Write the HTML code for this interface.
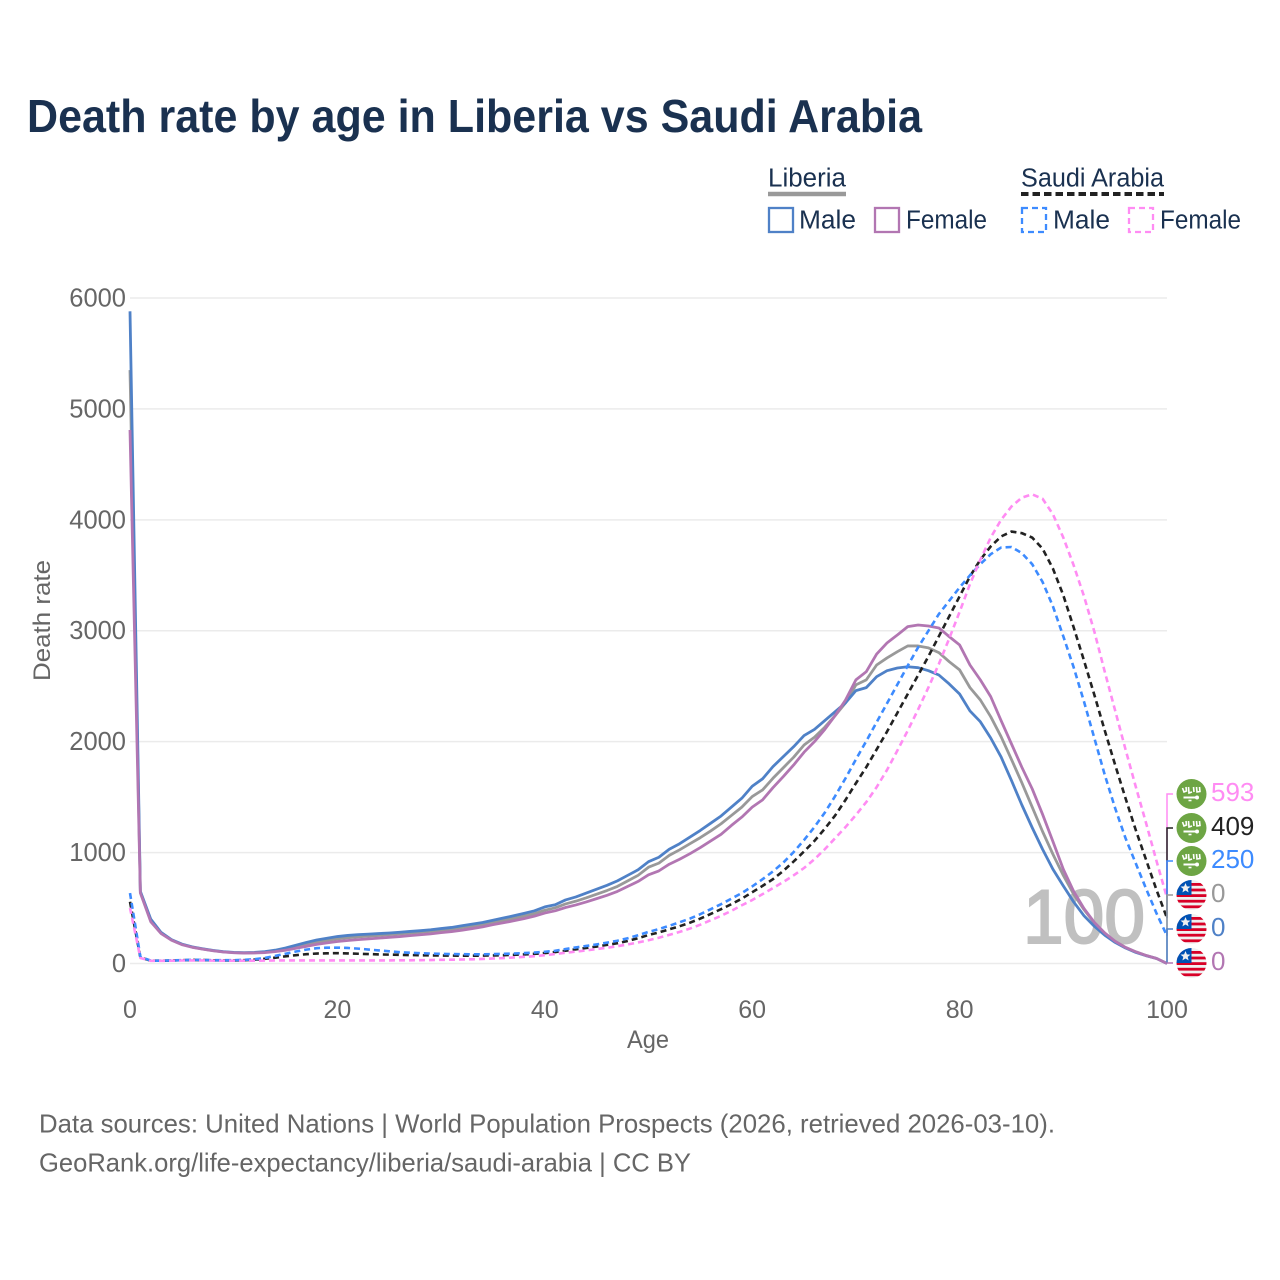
<!DOCTYPE html>
<html>
<head>
<meta charset="utf-8">
<title>Death rate by age in Liberia vs Saudi Arabia</title>
<style>
html,body{margin:0;padding:0;background:#fff}
svg{display:block}
text{font-family:"Liberation Sans",sans-serif}
</style>
</head>
<body>
<svg id="chart" width="1280" height="1280" viewBox="0 0 1280 1280" xmlns="http://www.w3.org/2000/svg">
  <text x="27" y="132" font-size="46" font-weight="700" fill="#1a3150" textLength="895" lengthAdjust="spacingAndGlyphs">Death rate by age in Liberia vs Saudi Arabia</text>

  <g font-size="25.5" fill="#1a3150">
    <text x="768" y="186.5" textLength="78" lengthAdjust="spacingAndGlyphs">Liberia</text>
    <line x1="768" y1="194" x2="846" y2="194" stroke="#999" stroke-width="4.5"/>
    <text x="1021" y="186.5" textLength="143" lengthAdjust="spacingAndGlyphs">Saudi Arabia</text>
    <line x1="1021" y1="194" x2="1164" y2="194" stroke="#222" stroke-width="4" stroke-dasharray="7.5 4"/>

    <rect x="769" y="208" width="24" height="24" fill="none" stroke="#4f81c7" stroke-width="2.3"/>
    <text x="799" y="228.5" textLength="57" lengthAdjust="spacingAndGlyphs">Male</text>
    <rect x="875" y="208" width="24" height="24" fill="none" stroke="#b276b2" stroke-width="2.3"/>
    <text x="906" y="228.5" textLength="81" lengthAdjust="spacingAndGlyphs">Female</text>
    <rect x="1022" y="208" width="24" height="24" fill="none" stroke="#3d8bff" stroke-width="2.3" stroke-dasharray="6 4"/>
    <text x="1053" y="228.5" textLength="57" lengthAdjust="spacingAndGlyphs">Male</text>
    <rect x="1129" y="208" width="24" height="24" fill="none" stroke="#ff8cf3" stroke-width="2.3" stroke-dasharray="6 4"/>
    <text x="1160" y="228.5" textLength="81" lengthAdjust="spacingAndGlyphs">Female</text>
  </g>

  <g id="grid"></g>
  <g id="yticks" font-size="25.5" fill="#666" text-anchor="end"></g>
  <g id="xticks" font-size="25" fill="#666" text-anchor="middle"></g>
  <text transform="translate(50,620.5) rotate(-90)" font-size="24.5" fill="#666" text-anchor="middle" textLength="121" lengthAdjust="spacingAndGlyphs">Death rate</text>
  <text x="648" y="1048" font-size="25" fill="#666" text-anchor="middle" textLength="42" lengthAdjust="spacingAndGlyphs">Age</text>

  <text id="hover-age" x="1084" y="943" font-size="76" fill="#c0c0c0" stroke="#c0c0c0" stroke-width="2" text-anchor="middle" textLength="122" lengthAdjust="spacingAndGlyphs">100</text>

  <g id="series" fill="none" stroke-linejoin="round"></g>
  <g id="connectors" fill="none" stroke-width="1.5"></g>

  <defs>
    <clipPath id="flag-clip"><circle cx="0" cy="0" r="15"/></clipPath>
    <g id="flag-saudi">
      <circle r="15" fill="#6da544"/>
      <path d="M-9 -6 l1.5 4 l2.5 -1 l-0.5 -4 M-3 -7 l0.5 6 l3 -1 M2 -7 l0.5 5 M5 -7 l0.5 5 l3 -0.5 l-0.5 -4.5" stroke="#fff" stroke-width="1.6" fill="none"/>
      <path d="M-8 3.5 h12" stroke="#fff" stroke-width="2"/>
      <circle cx="5.5" cy="3.5" r="2" fill="#fff"/>
      <path d="M-3 6.5 h3" stroke="#fff" stroke-width="1.6"/>
    </g>
    <g id="flag-liberia" clip-path="url(#flag-clip)">
      <rect x="-15" y="-15" width="30" height="30" fill="#f0f0f0"/>
      <rect x="-15" y="-12" width="30" height="2.8" fill="#d80027"/>
      <rect x="-15" y="-6.4" width="30" height="2.8" fill="#d80027"/>
      <rect x="-15" y="-0.8" width="30" height="2.8" fill="#d80027"/>
      <rect x="-15" y="4.8" width="30" height="2.8" fill="#d80027"/>
      <rect x="-15" y="10.4" width="30" height="2.8" fill="#d80027"/>
      <rect x="-15" y="-15" width="15" height="15" fill="#0052b4"/>
      <polygon points="-6,-12 -4.6,-8.6 -1,-8.4 -3.8,-6.1 -2.9,-2.6 -6,-4.5 -9.1,-2.6 -8.2,-6.1 -11,-8.4 -7.4,-8.6" fill="#f0f0f0"/>
    </g>
  </defs>
  <g id="endlabels" font-size="26"></g>

  <g font-size="26" fill="#666">
    <text x="39" y="1132.5" textLength="1016" lengthAdjust="spacingAndGlyphs">Data sources: United Nations | World Population Prospects (2026, retrieved 2026-03-10).</text>
    <text x="39" y="1171.5" textLength="652" lengthAdjust="spacingAndGlyphs">GeoRank.org/life-expectancy/liberia/saudi-arabia | CC BY</text>
  </g>
</svg>
<script>
var yTickValues = [0, 1000, 2000, 3000, 4000, 5000, 6000];
var xTickValues = [0, 20, 40, 60, 80, 100];

var liberiaBoth = [5350,640,390,275,212,172,148,131,116,105,98,96,97,102,113,130,150,172,192,208,222,232,240,247,253,260,267,274,282,290,300,310,323,337,352,370,388,407,428,450,480,502,537,562,592,625,658,695,745,795,868,905,975,1025,1080,1135,1195,1260,1335,1410,1505,1565,1670,1765,1860,1970,2040,2130,2235,2350,2512,2557,2691,2755,2811,2863,2863,2845,2803,2721,2647,2487,2376,2225,2045,1840,1630,1410,1190,985,795,625,485,365,272,200,145,105,72,45,0];
var liberiaMale = [5880,650,400,280,215,175,150,133,118,107,100,98,100,107,120,140,165,190,212,228,243,253,260,265,270,275,282,289,296,304,315,325,340,355,370,390,410,430,452,475,510,530,573,600,635,670,705,745,795,845,918,958,1030,1080,1140,1200,1265,1330,1410,1490,1598,1665,1775,1865,1955,2055,2110,2190,2270,2350,2460,2487,2586,2640,2664,2675,2667,2640,2601,2520,2430,2277,2180,2033,1862,1650,1430,1225,1030,850,700,555,430,335,255,190,140,100,70,45,0];
var liberiaFemale = [4810,636,377,270,210,170,146,130,115,104,97,94,95,98,107,120,138,155,172,186,198,207,215,222,229,236,243,251,259,267,278,288,300,315,330,350,367,385,405,427,455,475,505,528,555,585,615,650,695,740,800,835,895,940,990,1045,1105,1165,1245,1320,1410,1475,1585,1685,1790,1905,2000,2110,2235,2375,2557,2631,2790,2890,2962,3037,3052,3043,3025,2947,2872,2691,2557,2406,2190,1980,1770,1575,1345,1100,850,650,495,370,275,200,145,105,72,45,0];
var saudiBoth = [557,55,25,25,27,30,32,31,29,28,28,30,34,42,52,65,75,84,90,92,93,91,88,85,82,80,78,76,74,73,72,71,70,70,71,73,75,78,82,87,94,103,115,128,140,153,168,183,203,228,257,280,308,336,368,405,447,490,535,585,642,700,760,835,920,1010,1105,1215,1335,1475,1625,1770,1930,2090,2260,2430,2600,2770,2950,3130,3310,3490,3640,3760,3850,3894,3880,3840,3740,3560,3320,3030,2730,2420,2100,1790,1490,1200,930,660,409];
var saudiMale = [635,60,26,25,28,30,33,32,30,30,30,33,38,50,68,88,108,125,138,143,143,140,134,126,118,110,102,97,93,90,87,85,84,83,83,85,87,90,94,99,106,115,130,145,158,172,188,205,228,255,285,310,340,372,405,445,490,535,585,635,695,760,830,910,1005,1113,1230,1360,1510,1670,1840,2005,2175,2345,2515,2685,2850,3000,3150,3270,3390,3500,3600,3690,3750,3755,3700,3600,3440,3220,2950,2670,2360,2030,1700,1400,1130,900,670,450,250];
var saudiFemale = [500,50,24,24,25,27,28,28,26,25,25,25,25,26,27,28,28,28,28,28,28,28,28,28,28,28,29,29,30,31,33,34,36,38,41,45,49,54,60,66,75,85,97,107,118,130,142,156,172,190,210,232,258,285,315,350,390,430,475,525,572,625,680,735,795,861,940,1030,1130,1230,1339,1455,1590,1745,1920,2100,2290,2490,2700,2930,3170,3420,3640,3840,4000,4120,4200,4230,4190,4050,3840,3590,3310,2990,2630,2280,1930,1590,1260,920,593];

var NS = 'http://www.w3.org/2000/svg';
function xScale(age) { return 130 + age * 10.37; }
function yScale(v) { return 963.5 - v * 0.11092; }
function make(parent, tag, attrs) {
  var el = document.createElementNS(NS, tag);
  for (var k in attrs) el.setAttribute(k, attrs[k]);
  parent.appendChild(el);
  return el;
}

var gridG = document.getElementById('grid');
var yG = document.getElementById('yticks');
yTickValues.forEach(function (v) {
  var line = make(gridG, 'line', {x1: 130, x2: 1167, y1: yScale(v), y2: yScale(v), stroke: '#ebebeb', 'stroke-width': 1.5});
  
  
  var t = make(yG, 'text', {x: 126, y: yScale(v) + 8.5});
  
  
  t.textContent = v;
});
var xG = document.getElementById('xticks');
xTickValues.forEach(function (a) {
  var t = make(xG, 'text', {x: xScale(a), y: 1018});
  
  
  t.textContent = a;
});

var seriesG = document.getElementById('series');
function drawLine(values, color, dashed) {
  var pts = values.map(function (v, i) { return xScale(i).toFixed(2) + ',' + yScale(v).toFixed(2); }).join(' ');
  var attrs = {points: pts, stroke: color, 'stroke-width': dashed ? 2.6 : 2.8};
  if (dashed) attrs['stroke-dasharray'] = '6 4';
  return make(seriesG, 'polyline', attrs);
}
var l1 = drawLine(liberiaBoth, '#999999', false);


var l2 = drawLine(liberiaMale, '#4f81c7', false);


var l3 = drawLine(liberiaFemale, '#b276b2', false);


var l4 = drawLine(saudiBoth, '#222222', true);


var l5 = drawLine(saudiMale, '#3d8bff', true);


var l6 = drawLine(saudiFemale, '#ff8cf3', true);



var conG = document.getElementById('connectors');
var labG = document.getElementById('endlabels');
function drawEnd(values, color, labelY, flag, textColor) {
  var v = values[values.length - 1];
  var path = make(conG, 'path', {d: 'M1173 ' + labelY + ' H1167 V' + yScale(v).toFixed(2), stroke: color});
  
  
  var icon = make(labG, 'use', {href: '#' + flag, x: 1191.5, y: labelY});
  
  
  var t = make(labG, 'text', {x: 1211, y: labelY + 7, fill: textColor});
  
  
  t.textContent = Math.round(v);
}
drawEnd(saudiFemale, '#ff8cf3', 794, 'flag-saudi', '#ff8cf3');
drawEnd(saudiBoth, '#222222', 828, 'flag-saudi', '#222222');
drawEnd(saudiMale, '#3d8bff', 861, 'flag-saudi', '#3d8bff');
drawEnd(liberiaBoth, '#999999', 895, 'flag-liberia', '#999999');
drawEnd(liberiaMale, '#4f81c7', 929, 'flag-liberia', '#4f81c7');
drawEnd(liberiaFemale, '#b276b2', 963, 'flag-liberia', '#b276b2');
</script>
</body>
</html>
